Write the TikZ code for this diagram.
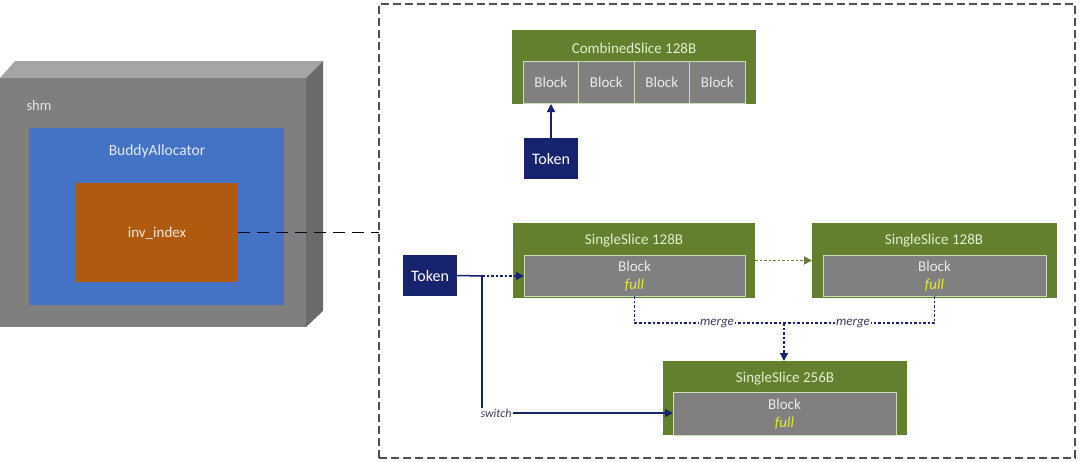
\documentclass[tikz,border=0pt]{standalone}
\usepackage{fontspec}
\setmainfont{Carlito}
\usetikzlibrary{arrows.meta}
\definecolor{shmfront}{HTML}{7F7F7F}
\definecolor{shmtop}{HTML}{A5A5A5}
\definecolor{shmside}{HTML}{6A6A6A}
\definecolor{buddy}{HTML}{4472C4}
\definecolor{invcol}{HTML}{B05A10}
\definecolor{slicegreen}{HTML}{62802E}
\definecolor{blockgray}{HTML}{808080}
\definecolor{blockborder}{HTML}{CFDCB8}
\definecolor{tokennavy}{HTML}{17236E}
\definecolor{titletext}{HTML}{E2EFD0}
\definecolor{fullyellow}{HTML}{E6E832}
\definecolor{framegray}{HTML}{505050}
\definecolor{olive}{HTML}{6B7F3A}
\definecolor{labelgray}{HTML}{3A4060}
\begin{document}
\begin{tikzpicture}[x=1pt,y=-1pt,
  box/.style={anchor=north west, inner sep=0pt, outer sep=0pt, draw=none},
  greenbox/.style={box, fill=slicegreen},
  blockbox/.style={box, fill=blockgray, draw=blockborder, line width=0.8pt},
  tokenbox/.style={box, fill=tokennavy, text=white, font=\fontsize{16}{18}\selectfont},
  titlelbl/.style={inner sep=0pt, text=titletext, font=\fontsize{15}{17}\selectfont},
  blocklbl/.style={inner sep=0pt, text=white!92!black, font=\fontsize{15}{17}\selectfont},
  fulllbl/.style={inner sep=0pt, text=fullyellow, font=\fontsize{15}{17}\selectfont\itshape},
  smalllbl/.style={inner sep=1pt, fill=white, text=labelgray, font=\fontsize{13}{15}\selectfont\itshape},
  navyarrow/.style={draw=tokennavy, line width=1.5pt, -{Triangle[length=8pt,width=8pt]}},
  navyline/.style={draw=tokennavy, line width=1.5pt},
  navydot/.style={draw=tokennavy, line width=1.5pt, dash pattern=on 2.5pt off 2pt},
  olivedot/.style={draw=olive, line width=1.5pt, dash pattern=on 2.5pt off 2pt, -{Triangle[length=8pt,width=8pt]}},
]
\useasboundingbox (0,0) rectangle (1080,461);

% outer dashed frame
\node[box, draw=framegray, line width=1.3pt, dash pattern=on 8pt off 4pt,
      minimum width=696pt, minimum height=454pt] (frame) at (379,4) {};

% shm 3D box
\fill[shmtop] (0,78) -- (15,61) -- (323,61) -- (306,78) -- cycle;
\fill[shmside] (306,78) -- (323,61) -- (323,311) -- (306,327) -- cycle;
\node[box, fill=shmfront, minimum width=306pt, minimum height=249pt] (shm) at (0,78) {};
\node[inner sep=0pt, text=white!90!black, font=\fontsize{14.5}{16}\selectfont] (shmlbl) at (39,106) {shm};

% BuddyAllocator
\node[box, fill=buddy, minimum width=255pt, minimum height=177pt] (buddy) at (29,128) {};
\node[inner sep=0pt, text=white!85!buddy, font=\fontsize{15.5}{17}\selectfont] (buddylbl) at (157,151) {BuddyAllocator};

% inv_index
\node[box, fill=invcol, minimum width=162pt, minimum height=99pt] (inv) at (76,183) {};
\node[inner sep=0pt, text=white!85!invcol, font=\fontsize{15}{17}\selectfont] (invlbl) at (157,233) {inv\_index};

\draw[draw=black!75!tokennavy, line width=1.5pt, dash pattern=on 12pt off 7pt] (inv.east) -- (inv.east -| frame.west);

% CombinedSlice
\node[greenbox, minimum width=244pt, minimum height=74pt] (cs) at (512,30) {};
\node[titlelbl] (cslbl) at (634,48) {CombinedSlice 128B};
\node[blockbox, minimum width=55.5pt, minimum height=42pt] (cb1) at (523,61.5) {};
\node[blockbox, minimum width=55.5pt, minimum height=42pt] (cb2) at (578.5,61.5) {};
\node[blockbox, minimum width=55.5pt, minimum height=42pt] (cb3) at (634,61.5) {};
\node[blockbox, minimum width=55.5pt, minimum height=42pt] (cb4) at (689.5,61.5) {};
\node[blocklbl] at (cb1.center) {Block};
\node[blocklbl] at (cb2.center) {Block};
\node[blocklbl] at (cb3.center) {Block};
\node[blocklbl] at (cb4.center) {Block};

\node[tokenbox, minimum width=54pt, minimum height=41pt] (tok1) at (524,138) {Token};
\draw[navyarrow] (tok1.north) -- (tok1.north |- cs.south);

% SingleSlice 128B (left)
\node[greenbox, minimum width=242pt, minimum height=75pt] (s1) at (513,223) {};
\node[titlelbl] (s1lbl) at (634,241) {SingleSlice 128B};
\node[blockbox, minimum width=221pt, minimum height=41pt] (b1) at (524,255) {};
\node[blocklbl] at (634.5,266) {Block};
\node[fulllbl] at (634.5,285) {full};

% SingleSlice 128B (right)
\node[greenbox, minimum width=245pt, minimum height=75pt] (s2) at (812,223) {};
\node[titlelbl] (s2lbl) at (934,241) {SingleSlice 128B};
\node[blockbox, minimum width=223pt, minimum height=41pt] (b2) at (823,255) {};
\node[blocklbl] at (934.5,266) {Block};
\node[fulllbl] at (934.5,285) {full};

% SingleSlice 256B
\node[greenbox, minimum width=244pt, minimum height=74pt] (s3) at (663,361) {};
\node[titlelbl] (s3lbl) at (785,379) {SingleSlice 256B};
\node[blockbox, minimum width=223pt, minimum height=43pt] (b3) at (673,392) {};
\node[blocklbl] at (784.5,404) {Block};
\node[fulllbl] at (784.5,423) {full};

% Token (left)
\node[tokenbox, minimum width=54pt, minimum height=41pt] (tok2) at (403,255) {Token};
\coordinate (corner) at (482,276);
\draw[navyline] (tok2.east) -- (corner);
\draw[navydot, -{Triangle[length=8pt,width=8pt]}] (corner) -- (corner -| b1.west);
\node[smalllbl, fill=none, font=\fontsize{12}{14}\selectfont\itshape] (sw) at (496,413) {switch};
\draw[navyline] (corner) -- (corner |- sw.north);
\draw[navyarrow] (sw.east) -- (sw.east -| b3.west);

% olive dotted between slices
\draw[olivedot] (s1.east) -- (s2.west);

% merge
\coordinate (mj) at (784,323);
\draw[navydot] (b1.south) |- (mj);
\draw[navydot] (b2.south) |- (mj);
\draw[navydot, -{Triangle[length=8pt,width=8pt]}] (mj) -- (mj |- s3.north);
\node[smalllbl] (m1) at (717,323) {merge};
\node[smalllbl] (m2) at (853,323) {merge};

\end{tikzpicture}
\end{document}
